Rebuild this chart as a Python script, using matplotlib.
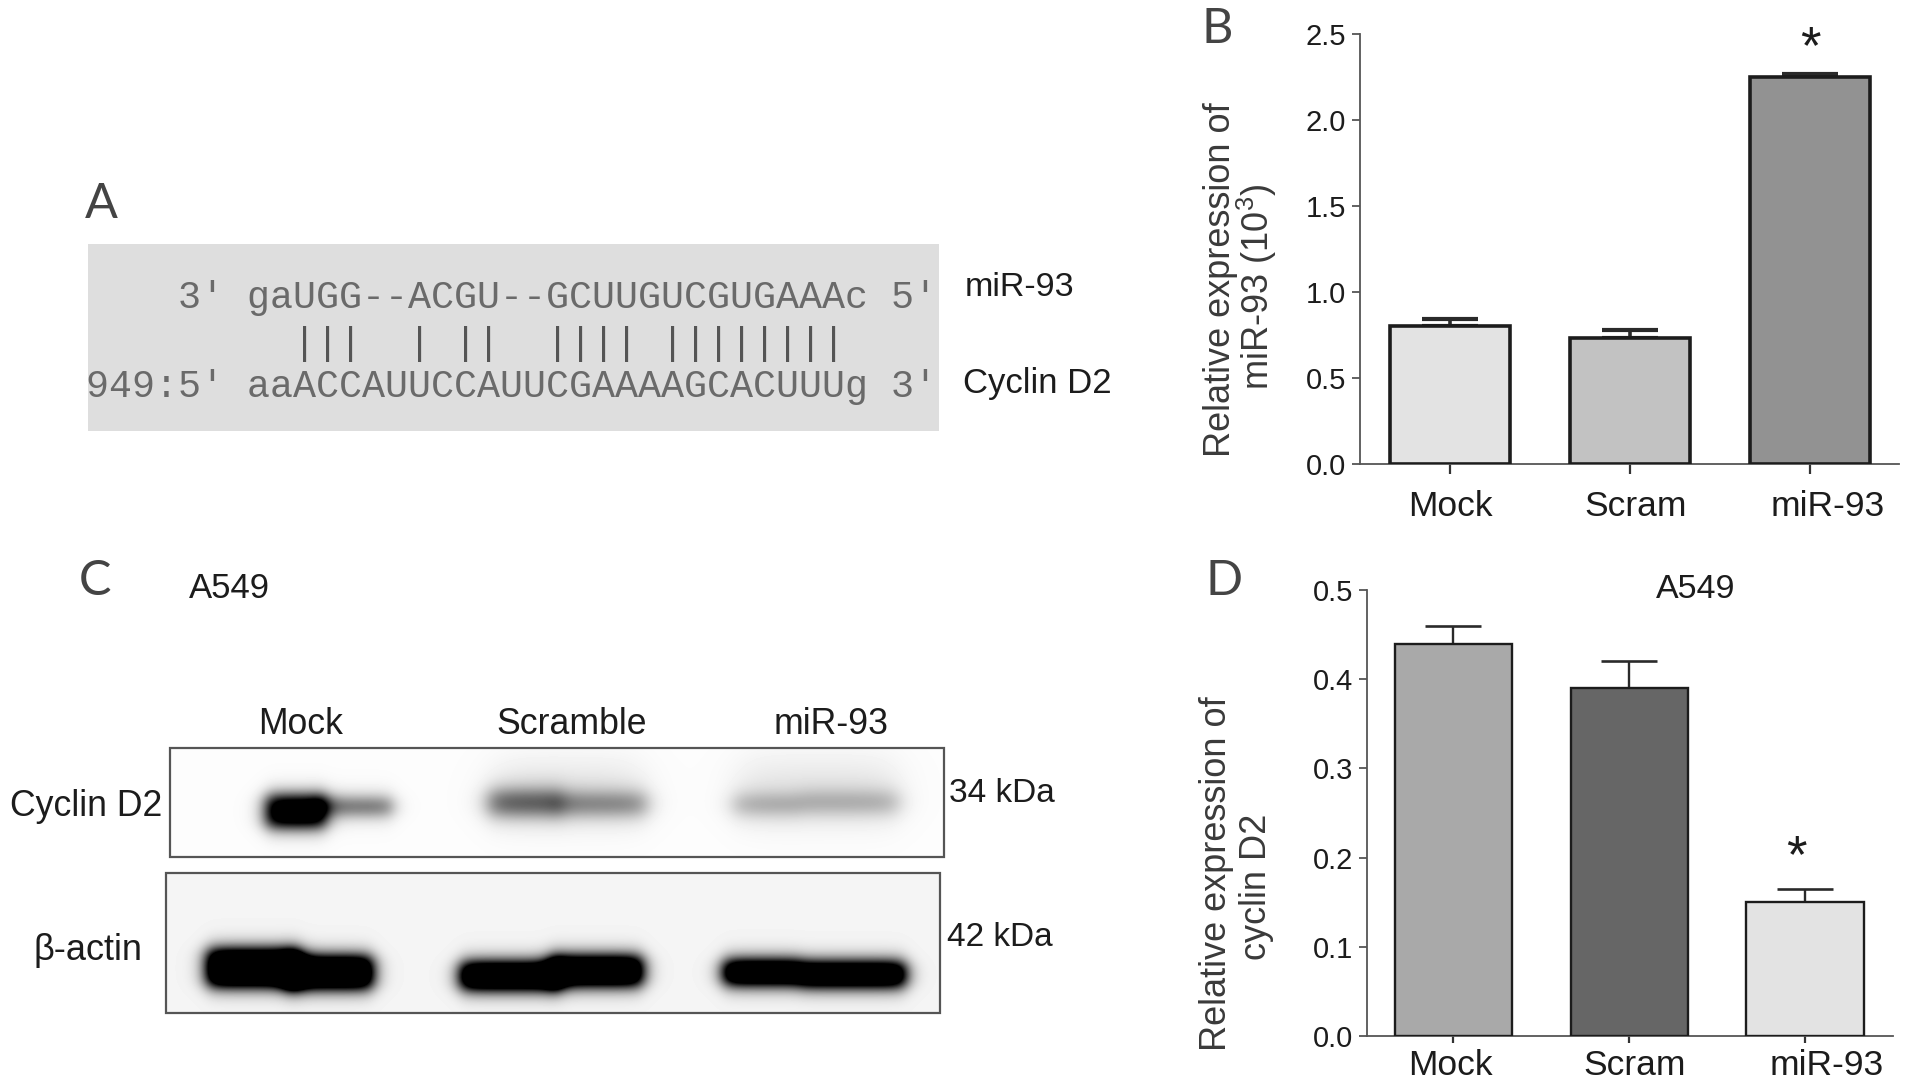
#!/usr/bin/env python3
"""miR-93 / cyclin D2 figure: alignment (A), two bar charts (B, D), western blot (C)."""
import numpy as np
import matplotlib
matplotlib.use("Agg")
import matplotlib.pyplot as plt
from matplotlib.patches import Rectangle
from matplotlib.transforms import ScaledTranslation

plt.rcParams['font.family'] = ['Liberation Sans', 'DejaVu Sans']
plt.rcParams['mathtext.default'] = 'regular'

W, H = 1913, 1090
TXT = '#1c1c1c'

# panel B
groups_b = ['Mock', 'Scram', 'miR-93']
vals_b = [0.80, 0.735, 2.25]
errs_b = [0.045, 0.045, 0.02]
cols_b = ['#e3e3e3', '#c2c2c2', '#929292']
yticks_b = [0.0, 0.5, 1.0, 1.5, 2.0, 2.5]

# panel D
groups_d = ['Mock', 'Scram', 'miR-93']
vals_d = [0.44, 0.39, 0.15]
errs_d = [0.02, 0.03, 0.015]
cols_d = ['#a9a9a9', '#666666', '#e3e3e3']
yticks_d = [0.0, 0.1, 0.2, 0.3, 0.4, 0.5]

# panel A
seq_top = "    3' gaUGG--ACGU--GCUUGUCGUGAAAc 5'"
seq_mid = "         |||  | ||  |||| ||||||||"
seq_bot = "949:5' aaACCAUUCCAUUCGAAAAGCACUUUg 3'"

# panel C: bands as x0, x1, y0, y1, darkness, blur (pixels of the figure)
bands_cyclin = [(266, 325, 796, 826, 1.5, 5), (315, 392, 799, 813, 0.75, 5),
                (488, 560, 792, 813, 0.75, 6), (555, 646, 795, 812, 0.6, 6),
                (495, 640, 765, 815, 0.10, 12),
                (733, 800, 797, 811, 0.42, 6), (800, 898, 794, 810, 0.38, 6),
                (740, 895, 762, 815, 0.10, 12)]
bands_actin = [(207, 300, 950, 985, 2.0, 5), (285, 372, 957, 987, 2.0, 5),
               (460, 560, 963, 988, 2.0, 5), (550, 642, 957, 984, 2.0, 5),
               (723, 800, 961, 983, 2.0, 5), (800, 905, 963, 985, 2.0, 5)]


def px_axes(fig, l, t, r, b):
    return fig.add_axes([l / W, 1 - b / H, (r - l) / W, (b - t) / H])


def blot(ax, box, bands, bg):
    x0, x1, y0, y1 = box
    xx, yy = np.meshgrid(np.arange(x0, x1), np.arange(y0, y1))
    dark = np.zeros(xx.shape)
    for a, b, c, d, k, blur in bands:
        fx = 1 / (1 + np.exp((a - xx) / blur)) * 1 / (1 + np.exp((xx - b) / blur))
        fy = 1 / (1 + np.exp((c - yy) / blur)) * 1 / (1 + np.exp((yy - d) / blur))
        dark = dark + k * fx * fy
    ax.imshow(bg * (1 - np.clip(dark, 0, 1)), cmap='gray', vmin=0, vmax=1, extent=(x0, x1, y1, y0),
              aspect='auto', interpolation='bilinear', zorder=1)
    ax.add_patch(Rectangle((x0, y0), x1 - x0, y1 - y0, fc='none', ec='#555555', lw=1.6, zorder=2))


def bars(ax, groups, vals, errs, cols, yticks, ymax, width, xlim, lw, cap_lw, label_dx, xlen, xpad):
    x = np.arange(len(groups))
    ax.errorbar(x, vals, yerr=[np.zeros(len(x)), errs], fmt='none', ecolor='#2a2a2a',
                elinewidth=lw, capsize=20.5, capthick=cap_lw, zorder=2)
    ax.bar(x, vals, width=width, color=cols, edgecolor='#1c1c1c', linewidth=lw, zorder=3)
    ax.set_xlim(*xlim); ax.set_ylim(0, ymax)
    ax.spines['top'].set_visible(False); ax.spines['right'].set_visible(False)
    for s in ('left', 'bottom'):
        ax.spines[s].set_color('#555555'); ax.spines[s].set_linewidth(1.3)
    ax.set_yticks(yticks); ax.set_yticklabels([f'{v:.1f}' for v in yticks], fontsize=21, color=TXT)
    ax.set_xticks(x); ax.set_xticklabels(groups, fontsize=25.5, color=TXT)
    ax.tick_params(axis='y', length=6, width=1.3, color='#555555', pad=4)
    ax.tick_params(axis='x', length=xlen, width=1.6, color='#333333', pad=xpad)
    for lab, dx in zip(ax.get_xticklabels(), label_dx):
        lab.set_transform(lab.get_transform() + ScaledTranslation(dx / 100, 0, ax.figure.dpi_scale_trans))
    ax.patch.set_alpha(0)


fig = plt.figure(figsize=(W / 100, H / 100), dpi=100)
bg = px_axes(fig, 0, 0, W, H)
bg.set_xlim(0, W); bg.set_ylim(H, 0); bg.axis('off')

# panel letters
for s, x, y in [('A', 85, 204), ('B', 1202, 29), ('C', 79, 581), ('D', 1205, 581)]:
    bg.text(x, y, s, fontsize=35, family=['Lato', 'Liberation Sans'], color='#444444', ha='left', va='center')

# A: alignment
bg.add_patch(Rectangle((88, 244), 851, 187, fc='#dedede', ec='none', zorder=1))
for s, y, c in [(seq_top, 308, '#6a6a6a'), (seq_mid, 354, '#555555'), (seq_bot, 397, '#6a6a6a')]:
    bg.text(86, y, s, family='Liberation Mono', fontsize=27.6, color=c, ha='left', va='baseline', zorder=2)
bg.text(965, 288, 'miR-93', fontsize=24.5, color=TXT, ha='left', va='center')
bg.text(963, 383, 'Cyclin D2', fontsize=25, color=TXT, ha='left', va='center')

# C: western blot
blot(bg, (170, 944, 748, 857), bands_cyclin, 0.99)
blot(bg, (166, 940, 873, 1013), bands_actin, 0.96)
bg.set_xlim(0, W); bg.set_ylim(H, 0)
bg.text(229, 589, 'A549', fontsize=25, color=TXT, ha='center', va='center')
for s, x in [('Mock', 301), ('Scramble', 572), ('miR-93', 831)]:
    bg.text(x, 725, s, fontsize=25.7, color=TXT, ha='center', va='center')
bg.text(86, 806, 'Cyclin D2', fontsize=25.7, color=TXT, ha='center', va='center')
bg.text(88, 951, 'β-actin', fontsize=26, color=TXT, ha='center', va='center')
bg.text(949, 793, '34 kDa', fontsize=24, color=TXT, ha='left', va='center')
bg.text(947, 937, '42 kDa', fontsize=24, color=TXT, ha='left', va='center')

# B
axb = px_axes(fig, 1360, 34, 1899, 464)
bars(axb, groups_b, vals_b, errs_b, cols_b, yticks_b, 2.5, 0.667, (-0.5, 2.494), 2.6, 3.0, [0, 6, 18], 7.5, 11.5)
bg.text(1220, 280, 'Relative expression of', rotation=90, fontsize=26, color='#3a3a3a', ha='center', va='center')
bg.text(1257, 287, 'miR-93 (10$^{3}$)', rotation=90, fontsize=26, color='#3a3a3a', ha='center', va='center')
bg.text(1810, 49, '*', fontsize=38, color=TXT, ha='center', va='center')

# D
axd = px_axes(fig, 1367, 590, 1893, 1036)
bars(axd, groups_d, vals_d, errs_d, cols_d, yticks_d, 0.5, 0.665, (-0.489, 2.5), 1.7, 1.9, [-3, 6, 22], 5, 4.5)
bg.text(1696, 590, 'A549', fontsize=24.5, color=TXT, ha='center', va='center')
bg.text(1217, 874, 'Relative expression of', rotation=90, fontsize=26, color='#3a3a3a', ha='center', va='center')
bg.text(1256, 887, 'cyclin D2', rotation=90, fontsize=26, color='#3a3a3a', ha='center', va='center')
bg.text(1796, 858, '*', fontsize=38, color=TXT, ha='center', va='center')

fig.savefig('out.png', dpi=100)
